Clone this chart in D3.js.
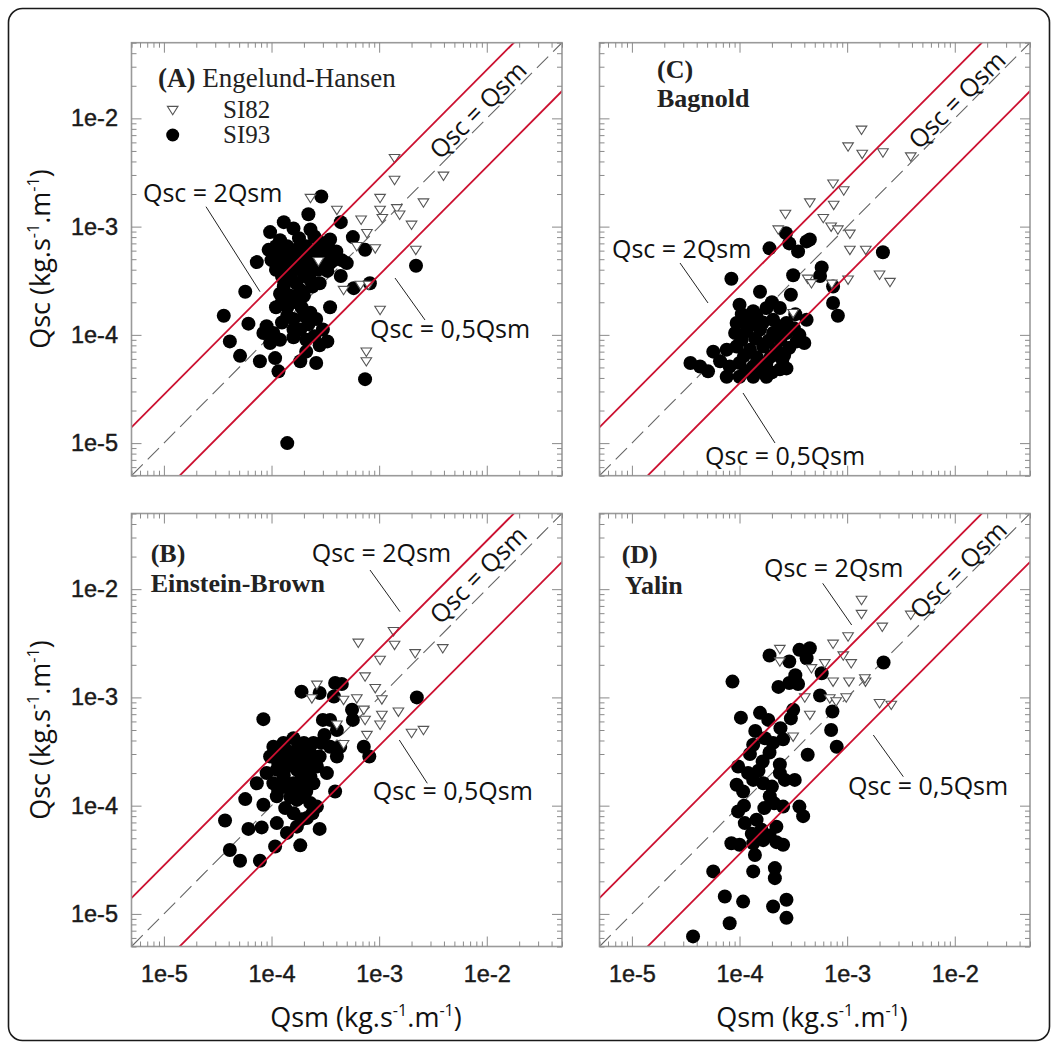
<!DOCTYPE html>
<html><head><meta charset="utf-8">
<script src="https://cdn.jsdelivr.net/npm/d3@7"></script>
<style>body{margin:0;background:#fff}svg{display:block}</style>
</head><body>
<svg id="chart" width="1059" height="1050"></svg>
<script>
// ---------- DATA (Qsm, Qsc) in kg.s-1.m-1 ----------
const ehSI93 = [[2.9e-4,1.9e-3],[2.2e-4,1.3e-3],[1.3e-4,1.1e-3],[1.6e-4,9.6e-4],[9.7e-5,8.9e-4],[2.3e-4,9.4e-4],[2.5e-4,8.1e-4],[4.4e-4,1.1e-3],[5.7e-4,8.0e-4],[3.5e-4,7.6e-4],[7.4e-4,6.1e-4],[7.3e-5,4.7e-4],[9.4e-5,6.1e-4],[1.1e-4,6.6e-4],[1.4e-4,6.6e-4],[1.7e-4,6.1e-4],[2.1e-4,6.6e-4],[2.6e-4,6.1e-4],[3.3e-4,6.6e-4],[4.0e-4,5.9e-4],[1.0e-4,4.9e-4],[1.3e-4,4.6e-4],[1.6e-4,4.9e-4],[2.0e-4,4.6e-4],[2.45e-4,4.9e-4],[3.0e-4,4.9e-4],[3.8e-4,4.9e-4],[4.5e-4,4.9e-4],[1.25e-4,3.5e-4],[1.5e-4,3.6e-4],[2.0e-4,3.5e-4],[2.8e-4,3.0e-4],[4.4e-4,3.5e-4],[5.8e-4,2.7e-4],[8.2e-4,3.0e-4],[5.7e-5,2.5e-4],[1.2e-4,2.4e-4],[1.5e-4,2.3e-4],[1.85e-4,2.6e-4],[2.4e-4,2.8e-4],[1.1e-4,1.8e-4],[1.4e-4,1.8e-4],[1.7e-4,2.0e-4],[2.3e-4,1.6e-4],[3.5e-4,1.8e-4],[3.6e-5,1.5e-4],[6.1e-5,1.27e-4],[1.6e-4,1.4e-4],[2.0e-4,1.5e-4],[9.0e-5,1.2e-4],[8.4e-5,1.04e-4],[1.04e-4,1.04e-4],[1.85e-4,1.12e-4],[3.0e-4,1.12e-4],[3.3e-4,8.7e-5],[4.1e-5,8.7e-5],[9.7e-5,8.4e-5],[2.1e-4,9.0e-5],[2.5e-4,9.7e-5],[5.1e-5,6.4e-5],[7.8e-5,5.7e-5],[1.08e-4,6.1e-5],[1.85e-4,5.7e-5],[2.1e-4,7.0e-5],[2.6e-4,5.5e-5],[1.16e-4,4.6e-5],[2.2e-3,4.35e-4],[7.4e-4,3.9e-5],[1.4e-4,1.0e-5],[1.7e-4,3.0e-4],[1.3e-4,2.8e-4],[2.0e-4,2.3e-4],[1.6e-4,1.12e-4],[3.5e-4,4.6e-4],[5.0e-4,4.6e-4],[1.1e-4,4.0e-4],[2.3e-4,4.0e-4],[1.4e-4,1.5e-4],[2.6e-4,1.4e-4],
  [1.2e-4,5.5e-4],[1.5e-4,5.5e-4],[1.9e-4,5.5e-4],[2.3e-4,5.5e-4],[2.8e-4,5.5e-4],[3.4e-4,5.5e-4],[1.2e-4,7.5e-4],[1.8e-4,7.8e-4],[2.8e-4,7.2e-4],[1.4e-4,4.0e-4],[1.8e-4,4.1e-4],[2.7e-4,4.0e-4],[3.3e-4,3.9e-4],[1.3e-4,3.2e-4],[2.3e-4,3.2e-4],[1.25e-4,2.0e-4],[1.9e-4,1.8e-4],[1.25e-4,1.3e-4],[2.2e-4,1.25e-4],[1.2e-4,9.0e-5],[1.6e-4,9.5e-5],[2.8e-4,8.0e-5]];
const ehSI82 = [[1.39e-3,4.3e-3],[1.39e-3,2.7e-3],[2.3e-4,1.84e-3],[4.05e-4,1.43e-3],[6.8e-4,1.16e-3],[1.02e-3,1.84e-3],[1.02e-3,1.43e-3],[1.07e-3,1.2e-3],[1.46e-3,1.48e-3],[1.55e-3,1.29e-3],[2.58e-3,1.67e-3],[3.96e-3,2.95e-3],[2.0e-3,1.04e-3],[7.7e-4,8.7e-4],[9.2e-4,6.3e-4],[2.73e-4,4.8e-4],[6.2e-4,6.6e-4],[2.19e-3,6.1e-4],[4.67e-4,2.6e-4],[6.7e-4,2.9e-4],[7.96e-4,2.9e-4],[1.02e-3,1.7e-4],[7.6e-4,7.0e-5],[7.6e-4,5.7e-5]];

const ebSI93 = [[8.4e-5,6.3e-4],[1.9e-4,1.13e-3],[2.8e-4,1.1e-3],[3.9e-4,1.36e-3],[4.5e-4,1.33e-3],[3.8e-4,1.02e-3],[5.6e-4,7.7e-4],[5.7e-4,6.2e-4],[7.2e-4,3.5e-4],[8.1e-4,2.85e-4],[2.24e-3,1.0e-3],[3.0e-4,6.2e-4],[3.5e-4,6.2e-4],[3.1e-4,4.5e-4],[2.9e-4,3.8e-4],[4.05e-4,5.0e-4],[1.04e-4,3.5e-4],[1.29e-4,3.8e-4],[1.6e-4,4.2e-4],[2.0e-4,3.8e-4],[2.45e-4,3.8e-4],[3.5e-4,3.5e-4],[4.35e-4,3.5e-4],[9.7e-5,2.85e-4],[1.2e-4,2.85e-4],[1.49e-4,3.05e-4],[1.85e-4,2.85e-4],[2.3e-4,3.05e-4],[2.8e-4,2.85e-4],[4.05e-4,2.85e-4],[9.0e-5,2.0e-4],[1.12e-4,2.15e-4],[1.39e-4,2.3e-4],[1.72e-4,2.15e-4],[2.13e-4,2.15e-4],[2.64e-4,2.3e-4],[3.27e-4,2.0e-4],[7.3e-5,1.61e-4],[1.04e-4,1.61e-4],[1.29e-4,1.73e-4],[1.6e-4,1.61e-4],[1.98e-4,1.73e-4],[2.45e-4,1.61e-4],[3.9e-4,1.35e-4],[5.7e-5,1.15e-4],[8.4e-5,1.02e-4],[1.12e-4,1.22e-4],[1.34e-4,9.5e-5],[1.72e-4,1.13e-4],[2.29e-4,1.06e-4],[2.64e-4,9.8e-5],[3.7e-5,7.3e-5],[6.1e-5,6.1e-5],[8.1e-5,6.3e-5],[1.12e-4,6.9e-5],[1.39e-4,5.6e-5],[1.72e-4,6.4e-5],[2.13e-4,7.7e-5],[2.8e-4,6.1e-5],[4.1e-5,3.9e-5],[5.1e-5,3.1e-5],[7.8e-5,3.1e-5],[1.08e-4,4.2e-5],[1.85e-4,4.3e-5],
  [1.15e-4,2.5e-4],[1.4e-4,2.6e-4],[1.7e-4,2.5e-4],[2.1e-4,2.5e-4],[2.5e-4,2.6e-4],[1.3e-4,1.9e-4],[1.9e-4,1.9e-4],[2.3e-4,1.85e-4],[1.15e-4,1.4e-4],[1.45e-4,1.45e-4],[1.8e-4,1.4e-4],[2.1e-4,1.35e-4],[1.5e-4,1.2e-4],[1.9e-4,1.2e-4],[1.35e-4,3.3e-4],[1.75e-4,3.4e-4],[2.2e-4,3.3e-4],[1.6e-4,8.5e-5],[1.9e-4,7.5e-5],[2.4e-4,8.5e-5]];
const ebSI82 = [[6.4e-4,3.2e-3],[1.36e-3,4.1e-3],[1.39e-3,3.06e-3],[2.16e-3,2.56e-3],[3.9e-3,2.85e-3],[1.02e-3,2.22e-3],[7.4e-4,1.56e-3],[9.2e-4,1.22e-3],[1.06e-3,9.6e-4],[2.64e-4,1.31e-3],[2.37e-4,9.8e-4],[4.67e-4,9.5e-4],[6.2e-4,9.8e-4],[7.2e-4,7.7e-4],[7.4e-4,6.2e-4],[1.06e-3,6.9e-4],[1.51e-3,7.4e-4],[4.05e-4,5.6e-4],[1.02e-3,5.6e-4],[7.7e-4,4.5e-4],[4.67e-4,3.7e-4],[2.0e-3,4.7e-4],[2.58e-3,5.0e-4]];

const bagSI93 = [[2.7e-4,8.7e-4],[1.9e-4,6.3e-4],[2.9e-4,7.0e-4],[3.5e-4,5.9e-4],[4.2e-4,7.3e-4],[4.5e-4,7.6e-4],[5.8e-4,4.2e-4],[5.6e-4,3.5e-4],[3.15e-4,3.55e-4],[8.4e-5,3.3e-4],[3.0e-4,2.35e-4],[1.55e-4,2.5e-4],[2.15e-3,5.8e-4],[7.4e-4,2.8e-4],[7.4e-4,1.97e-4],[8.2e-4,1.5e-4],[1.0e-4,1.9e-4],[1.34e-4,1.65e-4],[1.78e-4,1.77e-4],[2.37e-4,1.77e-4],[9.4e-5,1.29e-4],[1.16e-4,1.38e-4],[1.44e-4,1.48e-4],[2.05e-4,1.38e-4],[2.73e-4,1.29e-4],[4.2e-4,1.38e-4],[9.1e-5,1.04e-4],[1.16e-4,1.08e-4],[1.55e-4,1.12e-4],[2.05e-4,1.04e-4],[2.73e-4,1.04e-4],[3.6e-4,1.0e-4],[3.4e-4,8.7e-5],[4.0e-4,8.4e-5],[5.7e-5,7.0e-5],[7.6e-5,7.3e-5],[9.4e-5,7.8e-5],[1.25e-4,7.3e-5],[1.66e-4,7.8e-5],[2.2e-4,7.3e-5],[2.9e-4,7.6e-5],[3.5e-5,5.5e-5],[4.3e-5,5.1e-5],[5.1e-5,4.6e-5],[6.6e-5,5.7e-5],[8.1e-5,5.1e-5],[1.0e-4,5.5e-5],[1.34e-4,5.1e-5],[1.78e-4,5.5e-5],[2.5e-4,5.9e-5],[7.6e-5,4.1e-5],[1.0e-4,4.1e-5],[1.34e-4,4.1e-5],[1.78e-4,4.1e-5],[2.37e-4,4.8e-5],[2.73e-4,4.9e-5],
  [1.05e-4,1.55e-4],[1.3e-4,1.25e-4],[1.65e-4,1.3e-4],[2.3e-4,1.2e-4],[1.05e-4,9.0e-5],[1.4e-4,9.2e-5],[1.85e-4,8.8e-5],[2.4e-4,9.0e-5],[1.1e-4,6.4e-5],[1.45e-4,6.2e-5],[1.95e-4,6.3e-5],[2.6e-4,6.5e-5],[1.15e-4,4.6e-5],[1.55e-4,4.6e-5],[2.0e-4,4.5e-5],[3.2e-4,1.15e-4],[3.3e-4,1.55e-4],[2.0e-4,2.0e-4]];
const bagSI82 = [[1.36e-3,7.85e-3],[1.02e-3,5.5e-3],[1.38e-3,4.7e-3],[2.15e-3,4.85e-3],[3.9e-3,4.45e-3],[7.4e-4,2.5e-3],[9.3e-4,2.16e-3],[4.5e-4,1.67e-3],[7.5e-4,1.59e-3],[2.67e-4,1.31e-3],[6.0e-4,1.2e-3],[7.1e-4,1.0e-3],[8.2e-4,9.4e-4],[1.06e-3,8.6e-4],[2.29e-4,9.4e-4],[1.06e-3,6.1e-4],[1.49e-3,6.1e-4],[4.3e-4,3.3e-4],[4.66e-4,3.0e-4],[7.2e-4,2.97e-4],[1.02e-3,3.24e-4],[2.0e-3,3.6e-4],[2.5e-3,3.08e-4],[3.15e-4,1.59e-4]];

const yalSI93 = [[1.9e-4,2.44e-3],[2.9e-4,2.15e-3],[3.6e-4,2.75e-3],[4.5e-4,2.85e-3],[4.2e-4,2.3e-3],[5.8e-4,1.67e-3],[2.18e-3,2.1e-3],[8.6e-5,1.4e-3],[2.9e-4,1.36e-3],[3.5e-4,1.33e-3],[5.6e-4,1.04e-3],[7.3e-4,7.4e-4],[1.03e-4,6.5e-4],[1.55e-4,7.2e-4],[1.85e-4,6.2e-4],[3.0e-4,6.4e-4],[3.15e-4,7.7e-4],[1.34e-4,3.65e-4],[1.72e-4,4.2e-4],[2.05e-4,3.8e-4],[2.54e-4,4.1e-4],[4.3e-4,2.95e-4],[7.1e-4,5.0e-4],[8.0e-4,3.5e-4],[9.7e-5,2.3e-4],[1.64e-4,2.56e-4],[2.37e-4,2.4e-4],[3.26e-4,1.73e-4],[9.4e-5,1.56e-4],[1.08e-4,1.35e-4],[1.34e-4,1.73e-4],[1.66e-4,1.61e-4],[1.91e-4,1.22e-4],[2.37e-4,2.0e-4],[2.64e-4,1.73e-4],[9.7e-5,8.85e-5],[1.12e-4,6.9e-5],[1.44e-4,7.4e-5],[1.6e-4,6.0e-5],[2.2e-4,6.4e-5],[2.54e-4,9.8e-5],[3.6e-4,9.8e-5],[3.9e-4,8.0e-5],[8.4e-5,4.5e-5],[1.0e-4,4.35e-5],[1.34e-4,4.5e-5],[1.66e-4,4.8e-5],[2.54e-4,4.35e-5],[1.39e-4,3.5e-5],[5.7e-5,2.47e-5],[1.34e-4,2.47e-5],[2.13e-4,2.65e-5],[2.13e-4,2.14e-5],[7.3e-5,1.45e-5],[1.08e-4,1.3e-5],[2.05e-4,1.17e-5],[2.73e-4,1.35e-5],[2.73e-4,9.2e-6],[8.1e-5,8.2e-6],[3.7e-5,6.2e-6],
  [1.2e-4,2.0e-4],[1.5e-4,2.1e-4],[2.0e-4,1.5e-4],[1.1e-4,1.0e-4],[1.7e-4,9.5e-5],[2.1e-4,1.05e-4],[1.3e-4,5.5e-5],[1.9e-4,5.3e-5],[2.2e-4,4.6e-5],[1.25e-4,3.0e-4],[1.9e-4,3.1e-4],[2.4e-4,5.2e-4],[1.4e-4,4.9e-4],[2.3e-4,1.25e-3],[3.3e-4,1.6e-3]];
const yalSI82 = [[1.36e-3,7.96e-3],[1.36e-3,5.9e-3],[2.12e-3,4.5e-3],[3.9e-3,5.8e-3],[1.02e-3,3.66e-3],[7.4e-4,3.13e-3],[9.2e-4,2.44e-3],[1.09e-3,2.07e-3],[2.37e-4,2.8e-3],[2.37e-4,2.15e-3],[4.66e-4,1.86e-3],[6.2e-4,2.07e-3],[7.4e-4,1.4e-3],[1.04e-3,1.4e-3],[1.48e-3,1.4e-3],[1.46e-3,1.5e-3],[4.04e-4,1.0e-3],[6.9e-4,9.8e-4],[7.9e-4,9.2e-4],[9.8e-4,1.0e-3],[4.5e-4,6.9e-4],[3.15e-4,4.35e-4],[2.0e-3,8.85e-4],[2.57e-3,8.55e-4]];

const axisDomain = [5e-6, 5e-2];
const tickValues = [1e-5, 1e-4, 1e-3, 1e-2];
const tickLabels = ["1e-5", "1e-4", "1e-3", "1e-2"];
const seriesNames = ["SI82", "SI93"];
const lineLabels = ["Qsc = 2Qsm", "Qsc = 0,5Qsm", "Qsc = Qsm"];
const redLineFactors = [2.8, 1 / 2.8]; // red guide lines as drawn in the figure

// ---------- LAYOUT ----------
const W = 430.5, H = 433;
const panels = [
  {letter:"(A)", name:"Engelund-Hansen", inline:true, nameBold:false, si93:ehSI93, si82:ehSI82, left:131.5, top:42.7,
   yLab:true, xLab:false, legend:true, tPos:[26.5,44.3], nPos:null,
   l2:[11.5,159], k2:[74.5,164,128.5,249], l05:[238.5,295.3], k05:[263.5,235.3,293.5,277.3], l1:[346.5,67.3]},
  {letter:"(C)", name:"Bagnold", inline:false, nameBold:true, si93:bagSI93, si82:bagSI82, left:599.5, top:42.7,
   yLab:false, xLab:false, legend:false, tPos:[57.5,35.6], nPos:[57.5,64],
   l2:[12.5,215.3], k2:[80.5,220.3,108.5,260.3], l05:[105.5,422.3], k05:[143.5,350.3,175.5,400.3], l1:[357.5,57.3]},
  {letter:"(B)", name:"Einstein-Brown", inline:false, nameBold:true, si93:ebSI93, si82:ebSI82, left:131.5, top:513.5,
   yLab:true, xLab:true, legend:false, tPos:[19.2,48.2], nPos:[19.2,78.2],
   l2:[180.2,48.2], k2:[238.5,56.5,268.5,98.2], l05:[241.2,286.5], k05:[267.8,226.5,295.8,269.8], l1:[346.8,61.5]},
  {letter:"(D)", name:"Yalin", inline:false, nameBold:true, si93:yalSI93, si82:yalSI82, left:599.5, top:513.5,
   yLab:false, xLab:true, legend:false, tPos:[22.2,49.8], nPos:[25.5,80.5],
   l2:[164.5,63.2], k2:[223.2,69.8,252.2,111.5], l05:[248.5,281.5], k05:[273.8,221.5,303.8,263.2], l1:[358.8,56.5]}
];

const RED = "#cc1030";
const annoFont = "'Open Sans', 'Noto Sans', sans-serif";
const serif = "'Liberation Serif', 'Times New Roman', serif";
const tickFont = "'Liberation Sans', Arial, sans-serif";

const svg = d3.select("#chart");
svg.append("rect").attr("width",1059).attr("height",1050).attr("fill","#fff");
svg.append("rect").attr("x",8.5).attr("y",8.5).attr("width",1041).attr("height",1032)
  .attr("rx",14).attr("fill","none").attr("stroke","#1a1a1a").attr("stroke-width",1.6);

const triPath = "M-5.3,-3.6L5.3,-3.6L0,4.8Z";

panels.forEach((p, i) => {
  const x = d3.scaleLog().domain(axisDomain).range([0, W]);
  const y = d3.scaleLog().domain(axisDomain).range([H, 0]);
  const g = svg.append("g").attr("transform", `translate(${p.left},${p.top})`);
  const cid = "clip" + i;
  g.append("clipPath").attr("id", cid).append("rect").attr("width", W).attr("height", H);
  const plot = g.append("g").attr("clip-path", `url(#${cid})`);
  const line = d3.line().x(d => x(d[0])).y(d => y(d[1]));

  // 1:1 dashed line
  plot.append("path").datum(axisDomain.map(v => [v, v])).attr("d", line)
    .attr("fill","none").attr("stroke","#666").attr("stroke-width",1.1).attr("stroke-dasharray","16,7");

  // SI93 circles
  plot.selectAll("circle.si93").data(p.si93).join("circle").attr("class","si93")
    .attr("cx", d => x(d[0])).attr("cy", d => y(d[1])).attr("r", 7).attr("fill","#000");
  // SI82 triangles
  plot.selectAll("path.si82").data(p.si82).join("path").attr("class","si82")
    .attr("d", triPath).attr("transform", d => `translate(${x(d[0])},${y(d[1])})`)
    .attr("fill","#fff").attr("stroke","#555").attr("stroke-width",1.1);

  // red guide lines  (Qsc = f * Qsm)
  const ext = [axisDomain[0] / 10, axisDomain[1] * 10];
  redLineFactors.forEach(f => {
    plot.append("path").datum(ext.map(v => [v, v * f])).attr("d", line)
      .attr("fill","none").attr("stroke",RED).attr("stroke-width",1.8);
  });

  // frame
  g.append("rect").attr("width", W).attr("height", H).attr("fill","none").attr("stroke","#9a9a9a").attr("stroke-width",1.6);

  // ticks (inside, all four sides)
  const all = x.ticks();
  const minor = all.filter(v => !tickValues.some(t => Math.abs(t - v) / t < 1e-6));
  const mk = (axisFn, scale, vals, len, tr) => {
    const a = g.append("g").attr("transform", tr).call(axisFn(scale).tickValues(vals).tickSizeInner(-len).tickSizeOuter(0).tickFormat(""));
    a.select(".domain").remove();
    a.selectAll("line").attr("stroke","#8a8a8a").attr("stroke-width",1);
  };
  [[tickValues,10],[minor,5]].forEach(([vals,len]) => {
    mk(d3.axisBottom, x, vals, len, `translate(0,${H})`);
    mk(d3.axisTop, x, vals, len, "translate(0,0)");
    mk(d3.axisLeft, y, vals, len, "translate(0,0)");
    mk(d3.axisRight, y, vals, len, `translate(${W},0)`);
  });

  // tick labels
  const fmt = v => tickLabels[tickValues.indexOf(v)];
  const styleLab = a => {
    a.select(".domain").remove();
    a.selectAll("text").attr("font-family", tickFont).attr("font-size", 23.5).attr("fill","#1a1a1a")
      .attr("stroke","#1a1a1a").attr("stroke-width",0.45);
  };
  if (p.yLab) {
    styleLab(g.append("g").call(d3.axisLeft(y).tickValues(tickValues).tickSize(0).tickPadding(13.5).tickFormat(fmt)));
  }
  if (p.xLab) {
    styleLab(g.append("g").attr("transform", `translate(0,${H})`)
      .call(d3.axisBottom(x).tickValues(tickValues).tickSize(0).tickPadding(19).tickFormat(fmt)));
  }

  // panel title
  const t = g.append("text").attr("x", p.tPos[0]).attr("y", p.tPos[1]).attr("font-family", serif)
    .attr("font-size", p.inline ? 27 : 26).attr("fill","#222");
  t.append("tspan").attr("font-weight","bold").text(p.letter);
  if (p.inline) t.append("tspan").text(" " + p.name);
  else g.append("text").attr("x", p.nPos[0]).attr("y", p.nPos[1]).attr("font-family", serif)
    .attr("font-size", 26).attr("font-weight", p.nameBold ? "bold" : "normal").attr("fill","#222").text(p.name);

  // legend
  if (p.legend) {
    g.append("path").attr("d", triPath).attr("transform","translate(41.2,67.3)")
      .attr("fill","#fff").attr("stroke","#555").attr("stroke-width",1.1);
    g.append("circle").attr("cx",41.2).attr("cy",92.3).attr("r",6.5).attr("fill","#000");
    g.append("text").attr("x",91.5).attr("y",75.3).attr("font-family",serif).attr("font-size",25).attr("fill","#222").text(seriesNames[0]);
    g.append("text").attr("x",91.5).attr("y",100.3).attr("font-family",serif).attr("font-size",25).attr("fill","#222").text(seriesNames[1]);
  }

  // annotations
  const anno = (pos, txt) => g.append("text").attr("x", pos[0]).attr("y", pos[1])
    .attr("font-family", annoFont).attr("font-size", 25).attr("fill","#111").text(txt);
  anno(p.l2, lineLabels[0]);
  anno(p.l05, lineLabels[1]);
  [p.k2, p.k05].forEach(k => g.append("line").attr("x1",k[0]).attr("y1",k[1]).attr("x2",k[2]).attr("y2",k[3])
    .attr("stroke","#222").attr("stroke-width",1));
  g.append("text").attr("transform", `translate(${p.l1[0]},${p.l1[1]}) rotate(-45.2)`)
    .attr("text-anchor","middle").attr("dy","0.35em").attr("font-family", annoFont).attr("font-size", 25)
    .attr("fill","#111").text(lineLabels[2]);
});

// axis titles
const titleFont = "'Open Sans', 'Noto Sans', sans-serif";
function unitTitle(sel, base) {
  sel.append("tspan").text(base + " (kg.s");
  sel.append("tspan").attr("baseline-shift","super").attr("font-size","60%").text("-1");
  sel.append("tspan").text(".m");
  sel.append("tspan").attr("baseline-shift","super").attr("font-size","60%").text("-1");
  sel.append("tspan").text(")");
}
[[259, "Qsc"], [730, "Qsc"]].forEach(([cy, b]) => {
  const t = svg.append("text").attr("transform", `translate(50,${cy}) rotate(-90)`).attr("text-anchor","middle")
    .attr("font-family", titleFont).attr("font-size", 27).attr("fill","#111");
  unitTitle(t, b);
});
[[366, "Qsm"], [812, "Qsm"]].forEach(([cx, b]) => {
  const t = svg.append("text").attr("x", cx).attr("y", 1027).attr("text-anchor","middle")
    .attr("font-family", titleFont).attr("font-size", 27).attr("fill","#111");
  unitTitle(t, b);
});
</script>
</body></html>
